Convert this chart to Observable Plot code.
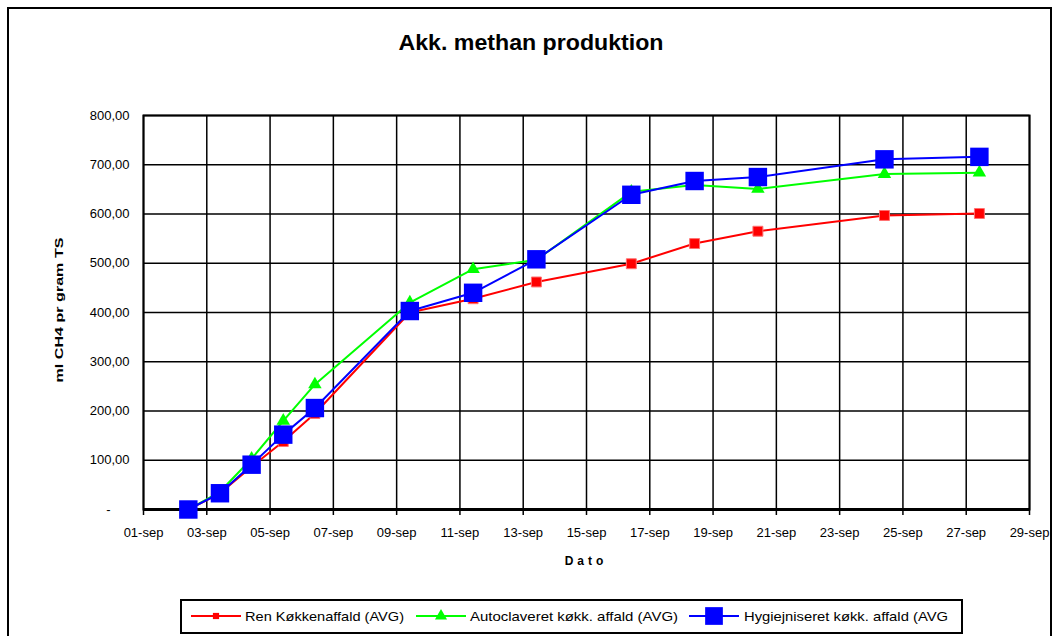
<!DOCTYPE html>
<html>
<head>
<meta charset="utf-8">
<script src="https://cdn.jsdelivr.net/npm/d3@7"></script>
<script src="https://cdn.jsdelivr.net/npm/@observablehq/plot@0.6"></script>
<style>
  html, body { margin: 0; padding: 0; background: #fff; }
  #wrap { position: relative; width: 1062px; height: 636px; overflow: hidden; background: #fff; font-family: "Liberation Sans", Arial, sans-serif; }
  #border { position: absolute; left: 7px; top: 7px; width: 1045px; height: 660px; border: 2px solid #000; box-sizing: border-box; }
  #chart { position: absolute; left: 0; top: 0; }
  #overlay { position: absolute; left: 0; top: 0; }
</style>
</head>
<body>
<div id="wrap">
  <div id="border"></div>
  <div id="chart"></div>
  <svg id="overlay" width="1062" height="636"></svg>
</div>
<script>
// ---- data ----
const dates = ["2006-09-02T10:00Z","2006-09-03T10:00Z","2006-09-04T10:00Z","2006-09-05T10:00Z","2006-09-06T10:00Z",
               "2006-09-09T10:00Z","2006-09-11T10:00Z","2006-09-13T10:00Z","2006-09-16T10:00Z","2006-09-18T10:00Z",
               "2006-09-20T10:00Z","2006-09-24T10:00Z","2006-09-27T10:00Z"];
const renValues  = [0, 33, 87, 138, 195, 400, 428, 462, 499, 540, 565, 597, 601];
const autoValues = [0, 36, 103, 180, 254, 420, 488, 507, 645, 659, 651, 681, 684];
const hygValues  = [0, 33, 91, 152, 206, 403, 440, 508, 639, 667, 675, 711, 716];
const seriesNames = ["Ren Køkkenaffald (AVG)", "Autoclaveret køkk. affald (AVG)", "Hygiejniseret køkk. affald (AVG"];
const seriesColors = ["#ff0000", "#00ff00", "#0000ff"];

const xTickDates  = ["2006-09-01","2006-09-03","2006-09-05","2006-09-07","2006-09-09","2006-09-11","2006-09-13",
                     "2006-09-15","2006-09-17","2006-09-19","2006-09-21","2006-09-23","2006-09-25","2006-09-27","2006-09-29"];
const xTickLabels = ["01-sep","03-sep","05-sep","07-sep","09-sep","11-sep","13-sep","15-sep","17-sep","19-sep",
                     "21-sep","23-sep","25-sep","27-sep","29-sep"];
const yTicks      = [0, 100, 200, 300, 400, 500, 600, 700, 800];
const yTickLabels = ["-", "100,00", "200,00", "300,00", "400,00", "500,00", "600,00", "700,00", "800,00"];

const titleText = "Akk. methan produktion";
const xLabelText = "Dato";
const yLabelText = "ml CH4 pr gram TS";

// ---- build ----
const xTicks = xTickDates.map(d => new Date(d));
const xLabelMap = new Map(xTicks.map((d, i) => [+d, xTickLabels[i]]));
const yLabelMap = new Map(yTicks.map((d, i) => [d, yTickLabels[i]]));
const mk = (vals, name) => dates.map((d, i) => ({date: new Date(d), value: vals[i], series: name}));
const ren = mk(renValues, seriesNames[0]);
const auto = mk(autoValues, seriesNames[1]);
const hyg = mk(hygValues, seriesNames[2]);

const font = "Liberation Sans, Arial, sans-serif";
const plot = Plot.plot({
  width: 1062, height: 636,
  marginLeft: 143, marginRight: 33, marginTop: 115, marginBottom: 127,
  style: {fontFamily: font, fontSize: "13px", background: "transparent", color: "#000", overflow: "visible"},
  x: {type: "utc", domain: [new Date("2006-09-01"), new Date("2006-09-29")]},
  y: {domain: [0, 800]},
  marks: [
    Plot.gridX(xTicks, {stroke: "#000", strokeOpacity: 1, strokeWidth: 1.5}),
    Plot.gridY(yTicks, {stroke: "#000", strokeOpacity: 1, strokeWidth: 1.5}),
    Plot.frame({stroke: "#000", strokeWidth: 2}),
    Plot.ruleY([0], {stroke: "#000", strokeWidth: 3}),
    Plot.axisX(xTicks, {tickFormat: d => xLabelMap.get(+d), tickSize: 6, tickPadding: 12, label: null, stroke: "#000", strokeWidth: 1.5, fontSize: 13}),
    Plot.axisY(yTicks.slice(1), {tickFormat: d => yLabelMap.get(d), tickSize: 0, tickPadding: 14, label: null, fontSize: 13}),
    Plot.axisY([0], {tickFormat: d => yLabelMap.get(d), tickSize: 0, tickPadding: 33, label: null, fontSize: 13}),
    Plot.line(ren, {x: "date", y: "value", stroke: seriesColors[0], strokeWidth: 2}),
    Plot.dot(ren, {x: "date", y: "value", symbol: "square", r: 5.6, fill: seriesColors[0], stroke: "#ff7070", strokeWidth: 1}),
    Plot.line(auto, {x: "date", y: "value", stroke: seriesColors[1], strokeWidth: 2}),
    Plot.dot(auto, {x: "date", y: "value", symbol: "triangle", r: 5, fill: seriesColors[1], stroke: "none"}),
    Plot.line(hyg, {x: "date", y: "value", stroke: seriesColors[2], strokeWidth: 2}),
    Plot.dot(hyg, {x: "date", y: "value", symbol: "square", r: 10.4, fill: seriesColors[2], stroke: "none"})
  ]
});
document.getElementById("chart").appendChild(plot);

// ---- overlay text & legend ----
const ov = d3.select("#overlay").style("font-family", font);
ov.append("text").attr("x", 531).attr("y", 50).attr("text-anchor", "middle")
  .attr("font-size", 22).attr("font-weight", "bold")
  .attr("textLength", 265).attr("lengthAdjust", "spacingAndGlyphs").text(titleText);
ov.append("text").attr("x", 586).attr("y", 565).attr("text-anchor", "middle")
  .attr("font-size", 12).attr("font-weight", "bold").attr("letter-spacing", "4px").text(xLabelText);
ov.append("text").attr("transform", "translate(63,310) rotate(-90)").attr("text-anchor", "middle")
  .attr("font-size", 11).attr("font-weight", "bold")
  .attr("textLength", 145).attr("lengthAdjust", "spacingAndGlyphs").text(yLabelText);

const lg = ov.append("g");
lg.append("rect").attr("x", 181).attr("y", 600).attr("width", 781).attr("height", 33)
  .attr("fill", "#fff").attr("stroke", "#000").attr("stroke-width", 2);
const entries = [
  {x: 191, textX: 245, type: d3.symbolSquare, r: 3.5, tw: 159},
  {x: 416, textX: 470, type: d3.symbolTriangle, r: 4.5, tw: 208},
  {x: 689, textX: 744, type: d3.symbolSquare, r: 10, tw: 204}
];
entries.forEach((e, i) => {
  const cy = 616;
  lg.append("line").attr("x1", e.x).attr("x2", e.x + 50).attr("y1", cy).attr("y2", cy)
    .attr("stroke", seriesColors[i]).attr("stroke-width", 2);
  lg.append("path").attr("transform", `translate(${e.x + 25},${cy})`)
    .attr("d", d3.symbol().type(e.type).size(Math.PI * e.r * e.r)())
    .attr("fill", seriesColors[i]);
  lg.append("text").attr("x", e.textX).attr("y", cy + 5).attr("font-size", 13)
    .attr("textLength", e.tw).attr("lengthAdjust", "spacingAndGlyphs").text(seriesNames[i]);
});
</script>
</body>
</html>
